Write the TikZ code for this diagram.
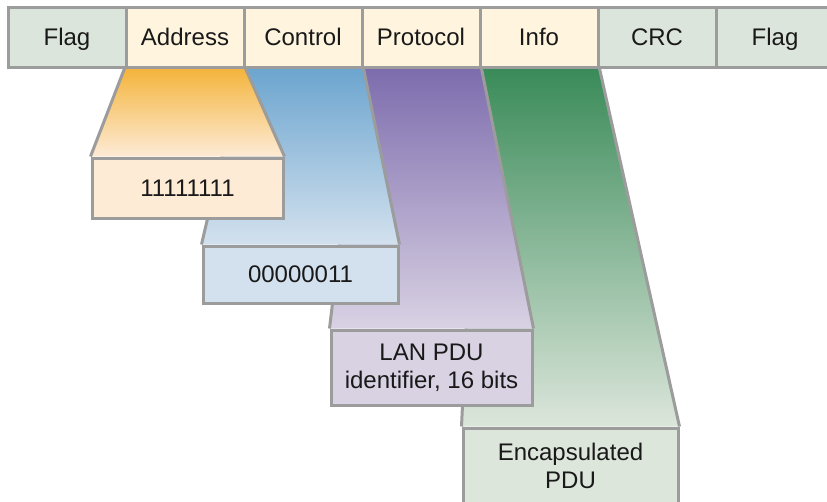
\documentclass[tikz,border=0pt]{standalone}
\usepackage{fontspec}
\setmainfont{Liberation Sans}
\usetikzlibrary{backgrounds}

\definecolor{framegray}{HTML}{9C9C9C}
\definecolor{flaggreen}{HTML}{DCE5DC}
\definecolor{fieldcream}{HTML}{FFF5DF}
\definecolor{addrtop}{HTML}{F4B43C}
\definecolor{addrlight}{HTML}{FDEBD6}
\definecolor{ctrltop}{HTML}{6CA5CF}
\definecolor{ctrllight}{HTML}{D3E1EE}
\definecolor{prottop}{HTML}{7D6CAD}
\definecolor{protlight}{HTML}{D9D2E3}
\definecolor{infotop}{HTML}{3A8B59}
\definecolor{infolight}{HTML}{DCE6DB}

\begin{document}
\begin{tikzpicture}[x=1pt,y=-1pt,
  field/.style={draw=framegray, line width=3pt, minimum width=118pt,
    minimum height=60pt, inner sep=0pt, text=black!90,
    text height=17pt, text depth=0pt,
    font=\fontsize{24}{28}\selectfont},
  flagcell/.style={field, fill=flaggreen},
  datacell/.style={field, fill=fieldcream},
  detail/.style={draw=framegray, line width=3pt, inner sep=0pt,
    text=black!90, align=center, font=\fontsize{24}{28}\selectfont},
  edge/.style={draw=framegray, line width=3pt}]

\useasboundingbox (0,0) rectangle (827,501);

% frame fields along the top
\node[flagcell] (flag1) at (67,37)  {Flag};
\node[datacell] (addr)  at (185,37) {Address};
\node[datacell] (ctrl)  at (303,37) {Control};
\node[datacell] (prot)  at (421,37) {Protocol};
\node[datacell] (info)  at (539,37) {Info};
\node[flagcell] (crc)   at (657,37) {CRC};
\node[flagcell] (flag2) at (775,37) {Flag};

% expanded contents of each field
\node[detail, fill=addrlight, minimum width=191pt, minimum height=60pt]
  (addrbox) at (187.5,188) {11111111};
\node[detail, fill=ctrllight, minimum width=195pt, minimum height=57pt]
  (ctrlbox) at (300.5,274.5) {00000011};
\node[detail, fill=protlight, minimum width=201pt, minimum height=75pt]
  (protbox) at (431.5,367.5) {LAN PDU\\identifier, 16 bits};
\node[detail, fill=infolight, minimum width=215pt, minimum height=75pt]
  (infobox) at (570.5,465.5) {Encapsulated\\PDU};

% funnels, later fields underneath
\begin{scope}[on background layer]
  \foreach \f/\b in {info/infobox, prot/protbox, ctrl/ctrlbox, addr/addrbox} {
    \shade[top color=\f top, bottom color=\f light]
      (\f.south west) -- (\b.north west) -- (\b.north east)
      -- (\f.south east) -- cycle;
    \draw[edge] (\f.south west) -- (\b.north west);
    \draw[edge] (\f.south east) -- (\b.north east);
  }
\end{scope}
\end{tikzpicture}
\end{document}
